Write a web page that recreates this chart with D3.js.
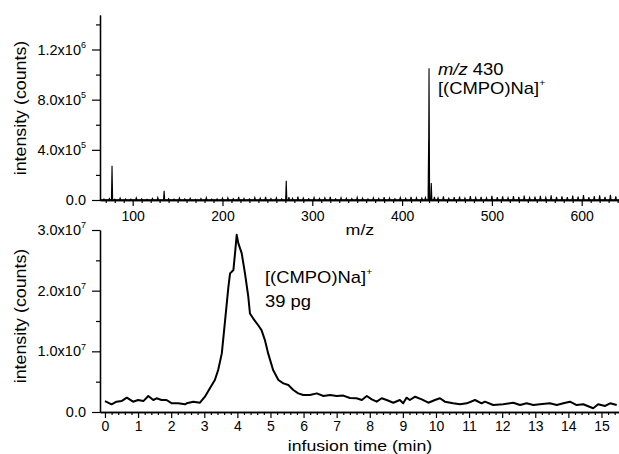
<!DOCTYPE html>
<html>
<head>
<meta charset="utf-8">
<script src="https://cdn.jsdelivr.net/npm/d3@7"></script>
<style>
  html, body { margin: 0; padding: 0; background: #fff; }
  svg { display: block; font-family: "Liberation Sans", Arial, sans-serif; }
</style>
</head>
<body>
<svg id="chart" width="619" height="454"></svg>
<script>
// ---------------- DATA ----------------
// Top panel: mass spectrum (stick peaks), m/z and intensity (counts)
const specMajorMz  = [77, 135, 271, 429.6, 430, 432.5];
const specMajorInt = [2.73e5, 7.4e4, 1.54e5, 4.9e5, 1.05e6, 1.35e5];
// baseline noise peaks (intensity in counts)
const noiseMz = [68,74,80,86,92,98,104,110,116,122,128,140,146,152,158,164,170,176,182,188,194,200,
  206,212,218,224,230,236,242,248,254,260,266,274,278,284,290,296,302,308,314,320,326,332,338,344,350,356,362,368,374,380,386,392,398,404,410,416,
  422,426,436,440,446,452,458,464,470,476,482,488,494,500,506,512,518,524,530,536,542,548,554,560,566,572,578,584,590,596,602,608,614,620,626,632,638];
const noiseInt = [8e3,1.2e4,6e3,1.5e4,9e3,7e3,1.8e4,1.0e4,6e3,1.3e4,2.0e4,1.1e4,7e3,1.6e4,9e3,1.4e4,6e3,1.2e4,1.9e4,8e3,1.0e4,1.5e4,
  1.8e4,1.1e4,2.4e4,1.3e4,9e3,2.0e4,1.5e4,2.6e4,1.2e4,1.8e4,1.0e4,2.2e4,1.4e4,2.8e4,1.6e4,1.1e4,2.0e4,1.3e4,1.7e4,2.4e4,1.0e4,1.9e4,1.4e4,1.2e4,2.1e4,1.5e4,1.0e4,1.8e4,1.3e4,2.3e4,1.6e4,1.1e4,2.0e4,1.4e4,2.5e4,1.7e4,
  1.5e4,2.0e4,2.6e4,1.8e4,3.0e4,1.4e4,2.2e4,2.8e4,1.6e4,3.2e4,2.0e4,2.5e4,1.7e4,3.4e4,2.2e4,2.9e4,1.9e4,3.1e4,2.4e4,3.6e4,2.0e4,2.7e4,3.3e4,2.1e4,3.8e4,2.5e4,3.0e4,2.2e4,3.5e4,2.8e4,4.0e4,2.3e4,3.2e4,3.7e4,2.6e4,4.2e4,3.0e4];

// Bottom panel: infusion chromatogram, time (min) and intensity (counts)
const timeMin = [0,0.2,0.35,0.5,0.66,0.85,1.0,1.16,1.31,1.46,1.56,1.71,1.86,2.02,2.21,2.42,2.47,2.67,2.87,3.02,3.17,3.32,3.42,3.53,3.63,3.73,3.78,3.83,3.88,3.93,3.98,4.03,4.13,4.23,4.33,4.38,4.48,4.63,4.73,4.83,4.93,5.08,5.24,5.39,5.54,5.69,5.84,5.99,6.19,6.40,6.60,6.80,7.00,7.20,7.40,7.60,7.76,7.91,8.06,8.21,8.36,8.51,8.71,8.91,9.01,9.11,9.21,9.37,9.57,9.77,9.97,10.12,10.27,10.52,10.73,10.93,11.18,11.38,11.48,11.73,12.03,12.34,12.54,12.74,12.94,13.14,13.44,13.65,13.85,14.05,14.25,14.45,14.75,14.90,15.11,15.26,15.46];
const intensity = [1.8e6,1.27e6,1.7e6,1.8e6,2.36e6,1.7e6,1.98e6,1.8e6,2.64e6,1.98e6,2.26e6,1.98e6,1.98e6,1.43e6,1.43e6,1.27e6,1.43e6,1.7e6,1.53e6,2.52e6,3.9e6,5.27e6,6.92e6,9.66e6,1.516e7,2.065e7,2.285e7,2.312e7,2.34e7,2.62e7,2.92e7,2.78e7,2.62e7,2.285e7,1.90e7,1.625e7,1.54e7,1.43e7,1.35e7,1.19e7,9.66e6,6.92e6,5.27e6,4.72e6,4.45e6,3.62e6,3.07e6,2.8e6,2.8e6,3.07e6,2.64e6,2.8e6,2.64e6,2.7e6,2.3e6,2.26e6,1.98e6,2.64e6,2.09e6,1.7e6,2.26e6,1.98e6,1.53e6,1.98e6,1.43e6,2.36e6,1.98e6,2.52e6,2.09e6,1.53e6,1.98e6,2.26e6,1.7e6,1.43e6,1.27e6,1.43e6,1.98e6,1.43e6,1.7e6,1.15e6,1.27e6,1.53e6,1.15e6,1.43e6,1.15e6,1.27e6,1.43e6,1.15e6,1.43e6,1.7e6,1.15e6,1.27e6,6.1e5,1.27e6,9.9e5,1.43e6,1.15e6];

// Tick labels
const topYTicks = [0, 4e5, 8e5, 1.2e6];
const topYMant  = ["0.0", "4.0", "8.0", "1.2"];
const topYExp   = ["", "5", "5", "6"];
const topXTicks = [100, 200, 300, 400, 500, 600];
const botYTicks = [0, 1e7, 2e7, 3e7];
const botYMant  = ["0.0", "1.0", "2.0", "3.0"];
const botYExp   = ["", "7", "7", "7"];
const botXTicks = [0,1,2,3,4,5,6,7,8,9,10,11,12,13,14,15];

// ---------------- DRAW ----------------
const svg = d3.select("#chart");
svg.append("rect").attr("width", 619).attr("height", 454).attr("fill", "#fff");

const TICK_FS = 14, TITLE_FS = 15, ANN_FS = 16;
const TITLE_SX = 1.18, ANN_SX = 1.15;

// Scales
const xTop = d3.scaleLinear().domain([63.6, 650]).range([100, 100 + 586.4 * 0.898]);
const yTop = d3.scaleLinear().domain([0, 1.475e6]).range([200, 15]);
const xBot = d3.scaleLinear().domain([-0.15, 15.6]).range([100, 100 + 15.75 * 33.1]);
const yBot = d3.scaleLinear().domain([0, 3e7]).range([412, 230]);

function styleAxis(g) {
  g.selectAll("path.domain").attr("stroke", "#000").attr("stroke-width", 1.3);
  g.selectAll(".tick line").attr("stroke", "#000").attr("stroke-width", 1.2);
  g.selectAll("text").attr("fill", "#000").attr("font-size", TICK_FS)
    .attr("font-family", "'Liberation Sans', Arial, sans-serif");
}

function stretchedText(x, y, sx, fs, rot) {
  return svg.append("text")
    .attr("transform", `translate(${x},${y})` + (rot ? ` rotate(${rot})` : "") + ` scale(${sx},1)`)
    .attr("font-size", fs).attr("fill", "#000");
}

function sciLabels(g, scale, ticks, mant, exps) {
  ticks.forEach((v, i) => {
    const t = g.append("text")
      .attr("x", -14)
      .attr("y", scale(v))
      .attr("dy", "0.35em")
      .attr("text-anchor", "end")
      .attr("font-size", 14.5)
      .attr("fill", "#000");
    if (exps[i]) {
      t.append("tspan").text(mant[i] + "x10");
      t.append("tspan").attr("font-size", 9).attr("dy", "-0.75em").text(exps[i]);
    } else {
      t.text(mant[i]);
    }
  });
}

// ----- Top panel -----
const topXMinor = d3.range(70, 650, 10).filter(v => v % 100 !== 0);
svg.append("g").attr("transform", "translate(0,200)")
  .call(d3.axisBottom(xTop).tickValues(topXMinor).tickSize(3).tickFormat("").tickSizeOuter(0))
  .call(styleAxis);
svg.append("g").attr("transform", "translate(0,200)")
  .call(d3.axisBottom(xTop).tickValues(topXTicks).tickSize(6).tickPadding(5).tickSizeOuter(0))
  .call(styleAxis);
const topYMinor = [2e5, 6e5, 1.0e6, 1.4e6];
svg.append("g").attr("transform", "translate(100,0)")
  .call(d3.axisLeft(yTop).tickValues(topYMinor).tickSize(4).tickFormat("").tickSizeOuter(0))
  .call(styleAxis);
const gTopY = svg.append("g").attr("transform", "translate(100,0)")
  .call(d3.axisLeft(yTop).tickValues(topYTicks).tickSize(8).tickFormat("").tickSizeOuter(0))
  .call(styleAxis);
sciLabels(gTopY, yTop, topYTicks, topYMant, topYExp);

// spectrum sticks
const peaks = specMajorMz.map((m, i) => ({mz: m, I: specMajorInt[i]}))
  .concat(noiseMz.map((m, i) => ({mz: m, I: noiseInt[i]})))
  .sort((a, b) => a.mz - b.mz);
const base = 2500;
const specPts = [[xTop(63.6), yTop(base)]];
peaks.forEach(p => {
  const x = xTop(p.mz);
  specPts.push([x - 0.6, yTop(base)]);
  specPts.push([x, yTop(p.I)]);
  specPts.push([x + 0.6, yTop(base)]);
});
specPts.push([xTop(650), yTop(base)]);
svg.append("path")
  .attr("d", d3.line()(specPts))
  .attr("fill", "none").attr("stroke", "#000").attr("stroke-width", 1.1);

// top titles
stretchedText(xTop(353), 235, 1.15, 15.5).attr("text-anchor", "middle").text("m/z");
stretchedText(26, 108, 1.08, 16.5, -90).attr("text-anchor", "middle").text("intensity (counts)");

// annotation top
const a1 = stretchedText(438, 75, ANN_SX, ANN_FS);
a1.append("tspan").attr("font-style", "italic").text("m/z");
a1.append("tspan").text(" 430");
const a2 = stretchedText(438, 94, ANN_SX, ANN_FS);
a2.append("tspan").text("[(CMPO)Na]");
a2.append("tspan").attr("font-size", 9).attr("dy", -8).text("+");

// ----- Bottom panel -----
const botXMinor = d3.range(0, 15.6, 0.2).filter(v => Math.abs(v - Math.round(v)) > 0.01);
svg.append("g").attr("transform", "translate(0,412)")
  .call(d3.axisBottom(xBot).tickValues(botXMinor).tickSize(3).tickFormat("").tickSizeOuter(0))
  .call(styleAxis);
svg.append("g").attr("transform", "translate(0,412)")
  .call(d3.axisBottom(xBot).tickValues(botXTicks).tickSize(6).tickPadding(3).tickSizeOuter(0))
  .call(styleAxis);
svg.append("g").attr("transform", "translate(100,0)")
  .call(d3.axisLeft(yBot).tickValues([5e6, 1.5e7, 2.5e7]).tickSize(4).tickFormat("").tickSizeOuter(0))
  .call(styleAxis);
const gBotY = svg.append("g").attr("transform", "translate(100,0)")
  .call(d3.axisLeft(yBot).tickValues(botYTicks).tickSize(8).tickFormat("").tickSizeOuter(0))
  .call(styleAxis);
sciLabels(gBotY, yBot, botYTicks, botYMant, botYExp);

svg.append("path")
  .datum(timeMin.map((t, i) => [t, intensity[i]]))
  .attr("d", d3.line().x(d => xBot(d[0])).y(d => yBot(d[1])))
  .attr("fill", "none").attr("stroke", "#000").attr("stroke-width", 2)
  .attr("stroke-linejoin", "round");

stretchedText(360, 450.5, TITLE_SX, TITLE_FS).attr("text-anchor", "middle").text("infusion time (min)");
stretchedText(26, 316, 1.08, 16.5, -90).attr("text-anchor", "middle").text("intensity (counts)");

const b1 = stretchedText(265, 283, ANN_SX, ANN_FS);
b1.append("tspan").text("[(CMPO)Na]");
b1.append("tspan").attr("font-size", 9).attr("dy", -8).text("+");
stretchedText(265, 307, ANN_SX, ANN_FS).text("39 pg");
</script>
</body>
</html>
